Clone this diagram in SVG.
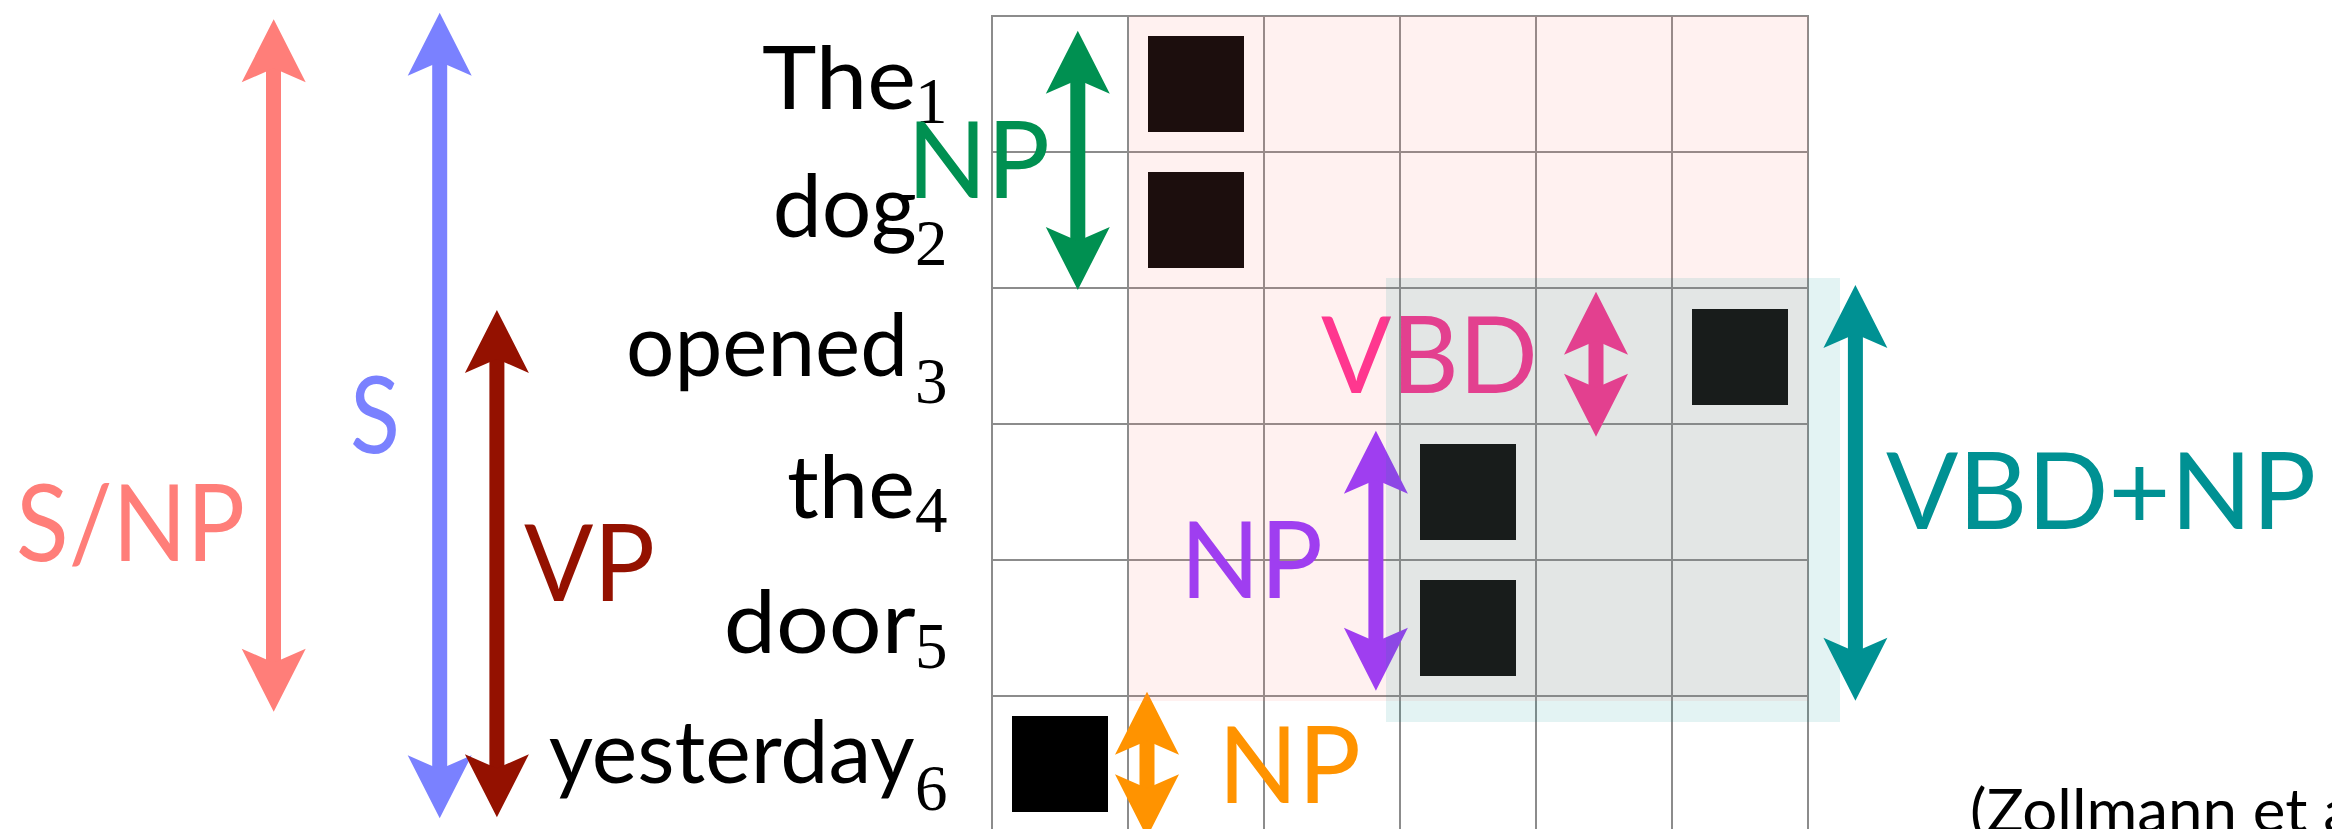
<svg xmlns="http://www.w3.org/2000/svg" xmlns:xlink="http://www.w3.org/1999/xlink" width="2332" height="829" viewBox="0 0 2332 829">
<style>
.word{font-family:Lato,"Liberation Sans",sans-serif;font-size:88px;fill:#000}
.sub{font-family:"Liberation Serif","DejaVu Serif",serif;font-size:65px;fill:#000}
.lab{font-family:Lato,"Liberation Sans",sans-serif;font-size:107px}
.cite{font-family:Lato,"Liberation Sans",sans-serif;font-size:60px;fill:#000}
.grid line{stroke:#8C8C8C;stroke-width:2}
.sq{fill:#000}
</style>
<defs>
<path id="head" d="M0,0 L32,63 L0,49 L-32,63 Z"/>
</defs>
<rect width="2332" height="829" fill="#fff"/>

<g id="grid" class="grid">
<line x1="992" y1="16" x2="992" y2="829"/>
<line x1="1128" y1="16" x2="1128" y2="829"/>
<line x1="1264" y1="16" x2="1264" y2="829"/>
<line x1="1400" y1="16" x2="1400" y2="829"/>
<line x1="1536" y1="16" x2="1536" y2="829"/>
<line x1="1672" y1="16" x2="1672" y2="829"/>
<line x1="1808" y1="16" x2="1808" y2="829"/>
<line x1="991" y1="16" x2="1809" y2="16"/>
<line x1="992" y1="152" x2="1808" y2="152"/>
<line x1="992" y1="288" x2="1808" y2="288"/>
<line x1="992" y1="424" x2="1808" y2="424"/>
<line x1="992" y1="560" x2="1808" y2="560"/>
<line x1="992" y1="696" x2="1808" y2="696"/>
</g>

<g id="alignments">
<rect id="a1" class="sq" x="1148" y="36" width="96" height="96"/>
<rect id="a2" class="sq" x="1148" y="172" width="96" height="96"/>
<rect id="a3" class="sq" x="1692" y="309" width="96" height="96"/>
<rect id="a4" class="sq" x="1420" y="444" width="96" height="96"/>
<rect id="a5" class="sq" x="1420" y="580" width="96" height="96"/>
<rect id="a6" class="sq" x="1012" y="716" width="96" height="96"/>
</g>

<g id="w1"><text><tspan class="word" x="762" y="109.3" textLength="154" lengthAdjust="spacingAndGlyphs">The</tspan><tspan class="sub" x="915" y="123">1</tspan></text></g>
<g id="w2"><text><tspan class="word" x="772.7" y="237" textLength="144" lengthAdjust="spacingAndGlyphs">dog</tspan><tspan class="sub" x="915" y="265">2</tspan></text></g>
<g id="w3"><text><tspan class="word" x="626" y="376" textLength="282" lengthAdjust="spacingAndGlyphs">opened</tspan><tspan class="sub" x="915" y="403">3</tspan></text></g>
<g id="w4"><text><tspan class="word" x="787" y="518" textLength="128" lengthAdjust="spacingAndGlyphs">the</tspan><tspan class="sub" x="915" y="532">4</tspan></text></g>
<g id="w5"><text><tspan class="word" x="723.7" y="653" textLength="192" lengthAdjust="spacingAndGlyphs">door</tspan><tspan class="sub" x="915" y="668">5</tspan></text></g>
<g id="w6"><text><tspan class="word" x="548.7" y="783" textLength="366" lengthAdjust="spacingAndGlyphs">yesterday</tspan><tspan class="sub" x="915" y="810">6</tspan></text></g>

<g id="lab-snp"><text class="lab" x="16" y="560.7" fill="#FF7E79" textLength="229" lengthAdjust="spacingAndGlyphs">S/NP</text></g>
<g id="lab-s"><text class="lab" x="350" y="453" fill="#7A81FF" textLength="50" lengthAdjust="spacingAndGlyphs">S</text></g>
<g id="lab-vp"><text class="lab" x="524" y="601" fill="#941100" textLength="131" lengthAdjust="spacingAndGlyphs">VP</text></g>
<g id="lab-np1"><text class="lab" x="907" y="198.3" fill="#009051" textLength="143" lengthAdjust="spacingAndGlyphs">NP</text></g>
<g id="lab-vbd"><text class="lab" x="1321" y="392.7" fill="#FF2F92" textLength="217" lengthAdjust="spacingAndGlyphs">VBD</text></g>
<g id="lab-np2"><text class="lab" x="1180" y="598.3" fill="#9437FF" textLength="143" lengthAdjust="spacingAndGlyphs">NP</text></g>
<g id="lab-np3"><text class="lab" x="1218" y="802.7" fill="#FF9300" textLength="143" lengthAdjust="spacingAndGlyphs">NP</text></g>
<g id="lab-vbdnp"><text class="lab" x="1886" y="529.4" fill="#009193" textLength="430" lengthAdjust="spacingAndGlyphs">VBD+NP</text></g>

<g id="connectors">
<g fill="#FF7E79"><rect x="266" y="67.3" width="15" height="596.4"/><use xlink:href="#head" transform="translate(273.7,19.3)"/><use xlink:href="#head" transform="translate(273.7,711.7) scale(1,-1)"/></g>
<g fill="#7A81FF"><rect x="432.2" y="60.7" width="15" height="709.6"/><use xlink:href="#head" transform="translate(439.7,12.7)"/><use xlink:href="#head" transform="translate(439.7,818.3) scale(1,-1)"/></g>
<g fill="#941100"><rect x="489.4" y="358" width="15" height="411.3"/><use xlink:href="#head" transform="translate(496.9,310)"/><use xlink:href="#head" transform="translate(496.9,817.3) scale(1,-1)"/></g>
<g fill="#009051"><rect x="1070.3" y="78.7" width="15" height="163.3"/><use xlink:href="#head" transform="translate(1077.8,30.7)"/><use xlink:href="#head" transform="translate(1077.8,290) scale(1,-1)"/></g>
<g fill="#9437FF"><rect x="1368.4" y="478.7" width="15" height="164"/><use xlink:href="#head" transform="translate(1375.9,430.7)"/><use xlink:href="#head" transform="translate(1375.9,690.7) scale(1,-1)"/></g>
<g fill="#FF9300"><rect x="1139.5" y="739.7" width="15" height="49.6"/><use xlink:href="#head" transform="translate(1147,691.7)"/><use xlink:href="#head" transform="translate(1147,837.3) scale(1,-1)"/></g>
<g fill="#FF2F92"><rect x="1588.5" y="339.7" width="15" height="49"/><use xlink:href="#head" transform="translate(1596,291.7)"/><use xlink:href="#head" transform="translate(1596,436.7) scale(1,-1)"/></g>
<g fill="#009193"><rect x="1847.9" y="332.9" width="15" height="319.9"/><use xlink:href="#head" transform="translate(1855.4,284.9)"/><use xlink:href="#head" transform="translate(1855.4,700.8) scale(1,-1)"/></g>
</g>

<g id="overlays">
<rect x="1129" y="16" width="679" height="685" fill="#FF7E79" fill-opacity="0.11"/>
<rect x="1386" y="278" width="454" height="444" fill="#009193" fill-opacity="0.11"/>
</g>

<g id="citation"><text class="cite" x="1970" y="832" textLength="384" lengthAdjust="spacingAndGlyphs">(Zollmann et a</text></g>
</svg>
